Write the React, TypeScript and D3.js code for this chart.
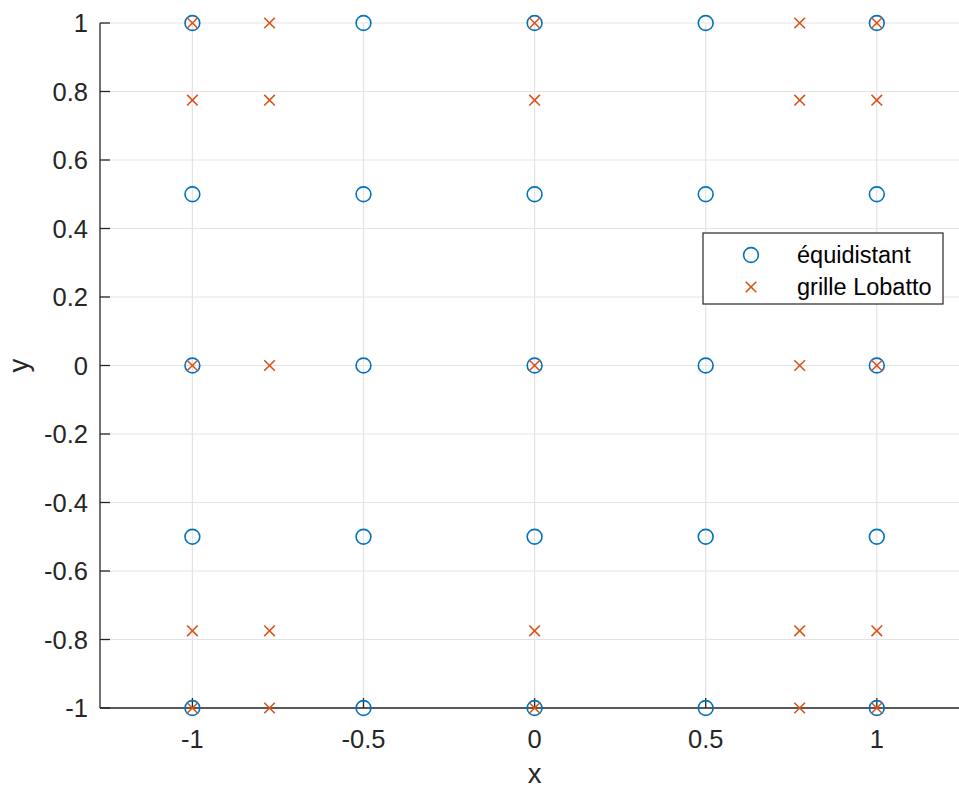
import React from "react";
import * as d3 from "d3";

// nodes
const equiNodes = [-1, -0.5, 0, 0.5, 1];
const lobattoNodes = [-1, -0.7746, 0, 0.7746, 1];
const xTicks = [-1, -0.5, 0, 0.5, 1];
const yTicks = [-1, -0.8, -0.6, -0.4, -0.2, 0, 0.2, 0.4, 0.6, 0.8, 1];
const seriesNames = ["équidistant", "grille Lobatto"];

const W = 959;
const H = 789;
const BLUE = "#0072BD";
const ORANGE = "#D95319";
const AXIS = "#262626";
const GRID = "#e3e3e3";
const FONT = "'Liberation Sans', Arial, Helvetica, sans-serif";

const App = () => {
    const xScale = d3.scaleLinear().domain([-1.27, 1.27]).range([100, 969.2]);
    const yScale = d3.scaleLinear().domain([-1, 1]).range([708, 23]);

    const equiPts = d3.cross(equiNodes, equiNodes);
    const lobPts = d3.cross(lobattoNodes, lobattoNodes);

    const x0 = xScale(-1.27);
    const yBottom = yScale(-1);
    const yTop = yScale(1);
    const cs = 5.3; // cross half-size

    const legendX = 703;
    const legendY = 233;

    return (
        <svg width={W} height={H} viewBox={`0 0 ${W} ${H}`}
            style={{ position: "absolute", left: 0, top: 0, background: "#fff" }}>
            {/* grid */}
            {xTicks.map((t, i) => (
                <line key={"gx" + i} x1={xScale(t)} x2={xScale(t)} y1={yTop} y2={yBottom}
                    stroke={GRID} strokeWidth={1.2} />
            ))}
            {yTicks.map((t, i) => (
                <line key={"gy" + i} x1={x0} x2={W} y1={yScale(t)} y2={yScale(t)}
                    stroke={GRID} strokeWidth={1.2} />
            ))}

            {/* axes */}
            <line x1={x0} x2={x0} y1={yTop} y2={yBottom} stroke={AXIS} strokeWidth={1.3} />
            <line x1={x0} x2={W} y1={yBottom} y2={yBottom} stroke={AXIS} strokeWidth={1.3} />
            {yTicks.map((t, i) => (
                <g key={"ty" + i} transform={`translate(0,${yScale(t)})`}>
                    <line x1={x0} x2={x0 + 10} stroke={AXIS} strokeWidth={1.3} />
                    <text x={88} dy="0.36em" textAnchor="end" fill={AXIS}
                        style={{ fontSize: "25.5px", fontFamily: FONT }}>{t}</text>
                </g>
            ))}
            {xTicks.map((t, i) => (
                <g key={"tx" + i} transform={`translate(${xScale(t)},0)`}>
                    <line y1={yBottom} y2={yBottom - 10} stroke={AXIS} strokeWidth={1.3} />
                    <text y={748} textAnchor="middle" fill={AXIS}
                        style={{ fontSize: "25.5px", fontFamily: FONT }}>{t}</text>
                </g>
            ))}

            {/* axis labels */}
            <text x={xScale(0)} y={783} textAnchor="middle" fill={AXIS}
                style={{ fontSize: "27.5px", fontFamily: FONT }}>x</text>
            <text transform={`translate(28,${yScale(0)}) rotate(-90)`} textAnchor="middle" fill={AXIS}
                style={{ fontSize: "27.5px", fontFamily: FONT }}>y</text>

            {/* équidistant */}
            {equiPts.map(([px, py], i) => (
                <circle key={"e" + i} cx={xScale(px)} cy={yScale(py)} r={7.4}
                    fill="none" stroke={BLUE} strokeWidth={1.6} />
            ))}
            {/* Lobatto */}
            {lobPts.map(([px, py], i) => (
                <path key={"l" + i}
                    d={`M${xScale(px) - cs},${yScale(py) - cs}L${xScale(px) + cs},${yScale(py) + cs}M${xScale(px) - cs},${yScale(py) + cs}L${xScale(px) + cs},${yScale(py) - cs}`}
                    stroke={ORANGE} strokeWidth={1.6} fill="none" />
            ))}

            {/* legend */}
            <rect x={legendX} y={legendY} width={240} height={71} fill="#fff" stroke={AXIS} strokeWidth={1.2} />
            <circle cx={751} cy={legendY + 22} r={7.4} fill="none" stroke={BLUE} strokeWidth={1.6} />
            <path d={`M${751 - cs},${legendY + 54 - cs}L${751 + cs},${legendY + 54 + cs}M${751 - cs},${legendY + 54 + cs}L${751 + cs},${legendY + 54 - cs}`}
                stroke={ORANGE} strokeWidth={1.6} fill="none" />
            {seriesNames.map((name, i) => (
                <text key={name} x={797} y={legendY + 22 + i * 32} dy="0.35em" fill="#000"
                    style={{ fontSize: "23.5px", fontFamily: FONT }}>{name}</text>
            ))}
        </svg>
    );
};

export default App;
